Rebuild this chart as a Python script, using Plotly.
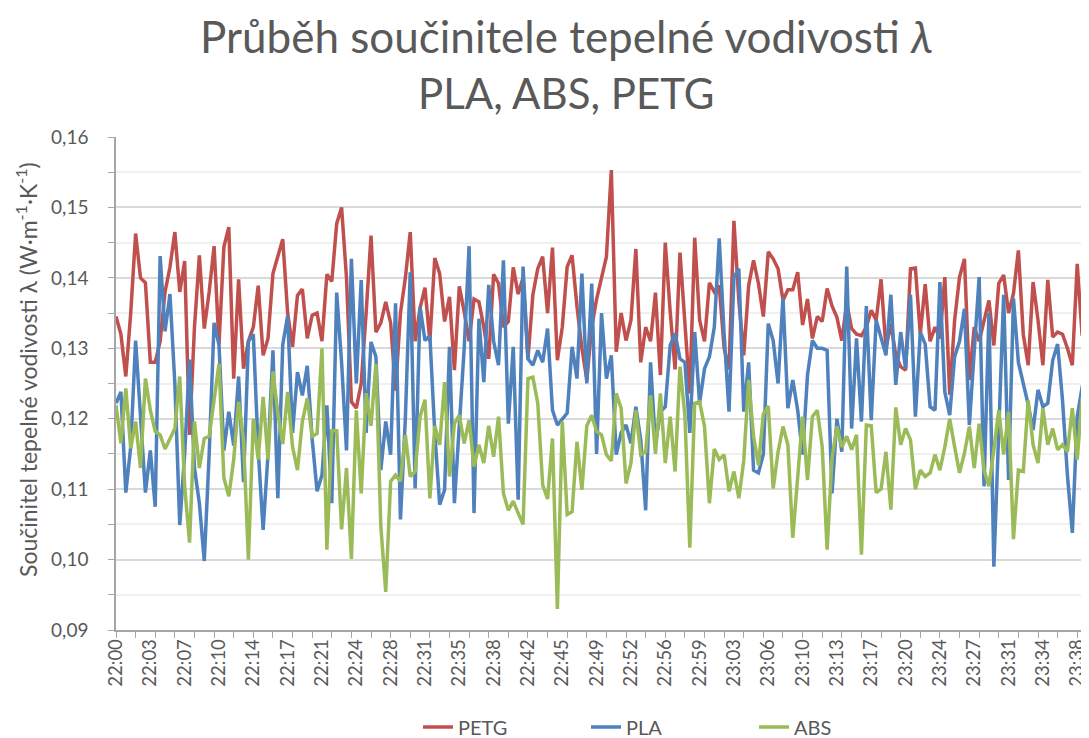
import pandas as pd
import plotly.graph_objects as go

petg = [
    0.1345, 0.132, 0.126, 0.135, 0.1463, 0.140, 0.1393, 0.128, 0.128, 0.131,
    0.138, 0.1415, 0.1465, 0.138, 0.1424, 0.1177, 0.133, 0.1432, 0.1328, 0.138,
    0.1445, 0.1306, 0.1444, 0.1472, 0.1257, 0.1398, 0.1271, 0.131, 0.133, 0.1389,
    0.129, 0.1314, 0.1406, 0.143, 0.1455, 0.135, 0.1302, 0.1375, 0.1384, 0.1314,
    0.1347, 0.135, 0.131, 0.1405, 0.1395, 0.1477, 0.150, 0.140, 0.1224, 0.1215,
    0.125, 0.135, 0.146, 0.1323, 0.1336, 0.1366, 0.1336, 0.124, 0.135, 0.140,
    0.1465, 0.131, 0.1357, 0.1386, 0.131, 0.1428, 0.1406, 0.1338, 0.1373, 0.1269,
    0.1388, 0.1352, 0.131, 0.137, 0.1366, 0.133, 0.1285, 0.1405, 0.1392, 0.133,
    0.1338, 0.1415, 0.1377, 0.140, 0.1285, 0.1376, 0.1413, 0.143, 0.135, 0.1443,
    0.1283, 0.133, 0.1416, 0.1432, 0.1359, 0.130, 0.1255, 0.133, 0.137,
    0.140, 0.143, 0.1553, 0.1295, 0.135, 0.1311, 0.134, 0.1441, 0.128, 0.133,
    0.131, 0.1379, 0.1262, 0.145, 0.1352, 0.127, 0.1436, 0.133, 0.1236, 0.1457,
    0.134, 0.131, 0.1393, 0.138, 0.1389, 0.130, 0.127, 0.1481, 0.1368, 0.129,
    0.1389, 0.1425, 0.1392, 0.1345, 0.1437, 0.1427, 0.1413, 0.1368, 0.1383, 0.1383,
    0.1408, 0.1333, 0.137, 0.1314, 0.1345, 0.1338, 0.1385, 0.136, 0.1344,
    0.1311, 0.1364, 0.1328, 0.132, 0.1318, 0.133, 0.1354, 0.134, 0.1398, 0.130,
    0.1335, 0.129, 0.1274, 0.1269, 0.1413, 0.1414, 0.132, 0.1391, 0.131, 0.133,
    0.1314, 0.1401, 0.1234, 0.134, 0.1401, 0.1427, 0.1255, 0.133, 0.131, 0.134,
    0.1368, 0.1304, 0.1392, 0.1404, 0.135, 0.1378, 0.1439, 0.132, 0.1276, 0.1394,
    0.134, 0.1276, 0.1397, 0.1316, 0.1323, 0.132, 0.130, 0.1276, 0.142, 0.1318,
    0.142,
]

pla = [
    0.1222, 0.1238, 0.1095, 0.116, 0.1311, 0.120, 0.1095, 0.1155, 0.1075, 0.1431,
    0.1324, 0.1377, 0.125, 0.1049, 0.115, 0.1284, 0.113, 0.108, 0.0998, 0.115,
    0.1336, 0.1305, 0.1155, 0.121, 0.1162, 0.126, 0.111, 0.131, 0.132, 0.1155,
    0.1042, 0.115, 0.1297, 0.1087, 0.1305, 0.1346, 0.118, 0.1266, 0.1233, 0.1275,
    0.1171, 0.1097, 0.112, 0.1219, 0.108, 0.1379, 0.128, 0.1155, 0.1427, 0.125,
    0.1397, 0.118, 0.1309, 0.1288, 0.1127, 0.1196, 0.1149, 0.1364, 0.1057, 0.120,
    0.1408, 0.1101, 0.1359, 0.1311, 0.1318, 0.118, 0.1078, 0.1099, 0.1302, 0.108,
    0.120, 0.130, 0.1445, 0.1066, 0.1342, 0.1252, 0.139, 0.131, 0.1276, 0.1425,
    0.1193, 0.1302, 0.1085, 0.1416, 0.1285, 0.1276, 0.1297, 0.128, 0.1328, 0.1212,
    0.1191, 0.120, 0.1208, 0.1302, 0.1257, 0.1406, 0.125, 0.1392, 0.115,
    0.135, 0.1257, 0.129, 0.1149, 0.118, 0.1191, 0.1165, 0.1217, 0.117, 0.107,
    0.128, 0.1163, 0.121, 0.1217, 0.1304, 0.1321, 0.1285, 0.128, 0.118, 0.1323,
    0.1222, 0.1271, 0.1288, 0.133, 0.1456, 0.132, 0.121, 0.1401, 0.1413, 0.121,
    0.128, 0.1127, 0.1123, 0.115, 0.1335, 0.1311, 0.125, 0.1372, 0.1215, 0.1255,
    0.1212, 0.1149, 0.1262, 0.1311, 0.130, 0.130, 0.1297, 0.1094, 0.120,
    0.1153, 0.1416, 0.1186, 0.1314, 0.1196, 0.136, 0.1198, 0.134, 0.1316, 0.129,
    0.1376, 0.1248, 0.1323, 0.1271, 0.1376, 0.1203, 0.1323, 0.1306, 0.1217, 0.1212,
    0.1394, 0.1238, 0.1205, 0.1288, 0.131, 0.1356, 0.1191, 0.130, 0.1401, 0.1104,
    0.135, 0.099, 0.120, 0.1376, 0.1113, 0.1371, 0.128, 0.125, 0.122, 0.1184,
    0.1241, 0.1217, 0.1222, 0.1283, 0.1306, 0.1226, 0.112, 0.1038, 0.1203, 0.1245,
    0.127,
]

abs_ = [
    0.1219, 0.1165, 0.1243, 0.1158, 0.1196, 0.1130, 0.1257, 0.1212, 0.1182, 0.1177,
    0.1157, 0.1172, 0.1186, 0.1260, 0.1104, 0.1024, 0.1196, 0.1130, 0.1172, 0.1175,
    0.1226, 0.1278, 0.1116, 0.1090, 0.1142, 0.1224, 0.1170, 0.1000, 0.1200, 0.1142,
    0.1231, 0.1142, 0.1267, 0.1208, 0.1164, 0.1238, 0.1160, 0.1127, 0.1196, 0.1229,
    0.1175, 0.1179, 0.1300, 0.1014, 0.1183, 0.1183, 0.1043, 0.1130, 0.1001, 0.1212,
    0.1094, 0.1236, 0.119, 0.1278, 0.1047, 0.0954, 0.1111, 0.112, 0.1111, 0.1177,
    0.1118, 0.1125, 0.1203, 0.1227, 0.1087, 0.119, 0.1163, 0.1252, 0.1118, 0.1193,
    0.1205, 0.1165, 0.1198, 0.1132, 0.1163, 0.1137, 0.119, 0.1146, 0.1203, 0.1094,
    0.107, 0.1083, 0.1066, 0.105, 0.1257, 0.1259, 0.1222, 0.1106, 0.1086, 0.1172,
    0.093, 0.1196, 0.1064, 0.1068, 0.1167, 0.1099, 0.119, 0.1205, 0.1182,
    0.1177, 0.1149, 0.114, 0.1236, 0.1215, 0.1108, 0.1137, 0.1212, 0.1149, 0.1153,
    0.1233, 0.115, 0.1236, 0.1137, 0.1203, 0.1125, 0.1274, 0.1205, 0.1017, 0.1222,
    0.1224, 0.1189, 0.108, 0.1157, 0.1142, 0.1149, 0.1097, 0.1125, 0.1087, 0.114,
    0.1255, 0.1175, 0.1134, 0.1207, 0.1218, 0.1101, 0.1153, 0.1189, 0.1163, 0.1031,
    0.1113, 0.1203, 0.1113, 0.1203, 0.1212, 0.116, 0.1014, 0.1144, 0.1189,
    0.116, 0.1175, 0.1156, 0.1177, 0.1007, 0.1191, 0.119, 0.1095, 0.11, 0.1153,
    0.1071, 0.1216, 0.1163, 0.1186, 0.117, 0.11, 0.1127, 0.1118, 0.1123, 0.1149,
    0.1127, 0.116, 0.12, 0.116, 0.1123, 0.1151, 0.1189, 0.113, 0.1193, 0.1127,
    0.1104, 0.1156, 0.1212, 0.1149, 0.121, 0.1029, 0.1127, 0.1125, 0.1226, 0.1163,
    0.1137, 0.1215, 0.1163, 0.1186, 0.1156, 0.1163, 0.1153, 0.1215, 0.1142, 0.1231,
    0.1035,
]

tick_labels = [
    "22:00", "22:03", "22:07", "22:10", "22:14", "22:17", "22:21", "22:24",
    "22:28", "22:31", "22:35", "22:38", "22:42", "22:45", "22:49", "22:52",
    "22:56", "22:59", "23:03", "23:06", "23:10", "23:13", "23:17", "23:20",
    "23:24", "23:27", "23:31", "23:34", "23:38",
]

title_line1 = "Průběh součinitele tepelné vodivosti <i>λ</i>"
title_line2 = "PLA, ABS, PETG"
y_title = "Součinitel tepelné vodivosti λ (W·m<sup>-1</sup>·K<sup>-1</sup>)"

n = len(petg)
times = pd.date_range("2020-01-01 22:00:00", periods=n, freq="30s")
tickvals = list(times[::7][:len(tick_labels)])

FONT = "Lato"
TXT = "#595959"
OFF = 8  # page body margin offset
W, H = 1089 - OFF, 738 - OFF
L, T = 116 - OFF, 137 - OFF
R = 0
B = H - (630 - OFF)
PW, PH = W - L - R, H - T - B


def px(pix):
    return (pix - OFF - L) / PW


def py(pix):
    return (H - B - (pix - OFF)) / PH


fig = go.Figure()
for name, vals, col in [("PETG", petg, "#C0504D"), ("PLA", pla, "#4F81BD"), ("ABS", abs_, "#9BBB59")]:
    fig.add_trace(go.Scatter(x=times[:len(vals)], y=vals, mode="lines", name=name,
                             line=dict(color=col, width=3.5)))

x_end = times[0] + pd.Timedelta(seconds=30 * 198.4)

fig.update_layout(
    width=W, height=H,
    margin=dict(l=L, r=R, t=T, b=B, autoexpand=False),
    paper_bgcolor="white", plot_bgcolor="white",
    separators=", ",
    font=dict(family=FONT, color=TXT),
    showlegend=True,
    legend=dict(orientation="h", xref="container", x=(418 - OFF) / W, xanchor="left",
                yref="container", y=(738 - 727) / H, yanchor="middle",
                entrywidth=123, entrywidthmode="pixels",
                font=dict(size=20, color=TXT, family=FONT)),
    annotations=[
        dict(text=title_line1, xref="paper", yref="paper", x=px(566), y=py(36),
             xanchor="center", yanchor="middle", showarrow=False,
             font=dict(size=44, color=TXT, family=FONT)),
        dict(text=title_line2, xref="paper", yref="paper", x=px(566), y=py(93),
             xanchor="center", yanchor="middle", showarrow=False,
             font=dict(size=42, color=TXT, family=FONT)),
        dict(text=y_title, xref="paper", yref="paper", x=px(26), y=py(370),
             xanchor="center", yanchor="middle", textangle=-90, showarrow=False,
             font=dict(size=23, color=TXT, family=FONT)),
    ],
)

fig.update_xaxes(
    type="date", range=[times[0], x_end], automargin=False,
    tickmode="array", tickvals=tickvals, ticktext=tick_labels,
    tickangle=-90, tickfont=dict(size=18.5, color=TXT),
    ticklabeloverflow="allow",
    ticks="", showgrid=False,
    showline=True, linecolor="#a6a6a6", linewidth=1.5,
    minor=dict(tick0=times[0], dtick=120000, ticks="outside", ticklen=6,
               tickcolor="#a6a6a6", tickwidth=1, showgrid=False),
)

fig.update_yaxes(
    range=[0.09, 0.16], dtick=0.01, tick0=0.09, tickformat=".2f", automargin=False,
    tickfont=dict(size=19, color=TXT), ticklabelstandoff=16,
    showgrid=True, gridcolor="#d9d9d9", gridwidth=1.5,
    ticks="outside", ticklen=6, tickcolor="#a6a6a6",
    showline=True, linecolor="#a6a6a6", linewidth=1.5,
    zeroline=False,
    minor=dict(dtick=0.005, showgrid=True, gridcolor="#f0f0f0", gridwidth=1.5,
               ticks="outside", ticklen=6, tickcolor="#a6a6a6"),
)

fig.write_html("out.html")
